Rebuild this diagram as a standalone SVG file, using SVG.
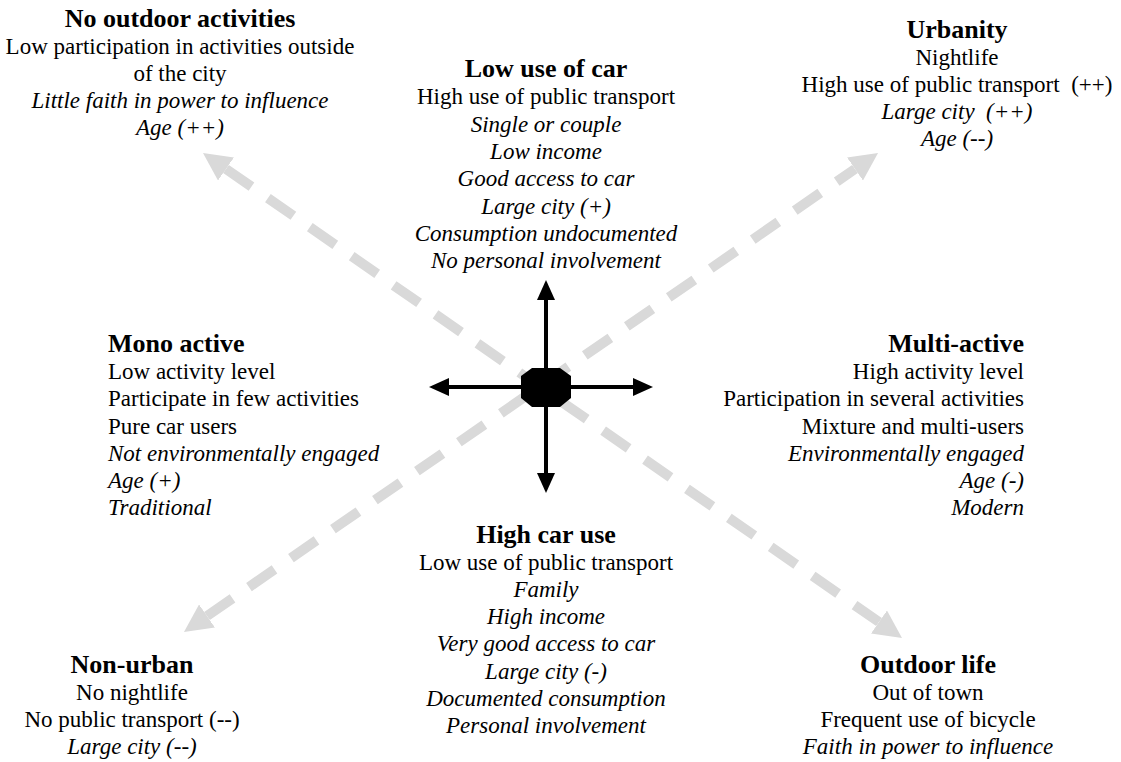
<svg xmlns="http://www.w3.org/2000/svg" width="1121" height="762" viewBox="0 0 1121 762">
<style>
text{font-family:"Liberation Serif","Times New Roman",serif;font-size:23px;fill:#000}
.t{font-weight:bold;font-size:26px}
.i{font-style:italic}
.c{text-anchor:middle}
.r{text-anchor:end}
.gray{stroke:#d9d9d9;stroke-width:10;stroke-dasharray:31 20;fill:none}
.blk{stroke:#000;stroke-width:4;fill:none}
</style>
<defs>
<marker id="gh" viewBox="0 0 28 28" markerUnits="userSpaceOnUse" markerWidth="28" markerHeight="28" refX="0" refY="14" orient="auto-start-reverse"><path d="M0,0 L28,14 L0,28 z" fill="#d9d9d9"/></marker>
<marker id="bh" viewBox="0 0 20 18" markerUnits="userSpaceOnUse" markerWidth="20" markerHeight="18" refX="0" refY="9" orient="auto-start-reverse"><path d="M0,0 L20,9 L0,18 z" fill="#000"/></marker>
</defs>
<rect width="1121" height="762" fill="#fff"/>
<g id="connectors">
<line class="gray" x1="226" y1="169" x2="879" y2="622" marker-start="url(#gh)" marker-end="url(#gh)"/>
<line class="gray" x1="207" y1="616" x2="855" y2="169" marker-start="url(#gh)" marker-end="url(#gh)"/>
<line class="blk" x1="546" y1="300" x2="546" y2="473" marker-start="url(#bh)" marker-end="url(#bh)"/>
<line class="blk" x1="449" y1="387" x2="633" y2="387" marker-start="url(#bh)" marker-end="url(#bh)"/>
</g>
<g id="center">
<polygon points="532,368 560,368 571,376 571,398 560,407 532,407 521,398 521,376" fill="#000"/>
</g>
<g id="no-outdoor">
<text class="t c" x="180" y="27">No outdoor activities</text>
<text class="c" x="180" y="54">Low participation in activities outside</text>
<text class="c" x="180" y="81">of the city</text>
<text class="i c" x="180" y="108">Little faith in power to influence</text>
<text class="i c" x="180" y="135">Age (++)</text>
</g>
<g id="low-car">
<text class="t c" x="546" y="77">Low use of car</text>
<text class="c" x="546" y="104.3">High use of public transport</text>
<text class="i c" x="546" y="131.6">Single or couple</text>
<text class="i c" x="546" y="158.9">Low income</text>
<text class="i c" x="546" y="186.2">Good access to car</text>
<text class="i c" x="546" y="213.5">Large city (+)</text>
<text class="i c" x="546" y="240.8">Consumption undocumented</text>
<text class="i c" x="546" y="268.1">No personal involvement</text>
</g>
<g id="urbanity">
<text class="t c" x="957" y="38">Urbanity</text>
<text class="c" x="957" y="65">Nightlife</text>
<text class="c" x="957" y="92" xml:space="preserve">High use of public transport  (++)</text>
<text class="i c" x="957" y="119" xml:space="preserve">Large city  (++)</text>
<text class="i c" x="957" y="146">Age (--)</text>
</g>
<g id="mono-active">
<text class="t" x="108" y="352">Mono active</text>
<text x="108" y="379.2">Low activity level</text>
<text x="108" y="406.4">Participate in few activities</text>
<text x="108" y="433.6">Pure car users</text>
<text class="i" x="108" y="460.8">Not environmentally engaged</text>
<text class="i" x="108" y="488">Age (+)</text>
<text class="i" x="108" y="515.2">Traditional</text>
</g>
<g id="multi-active">
<text class="t r" x="1024" y="352">Multi-active</text>
<text class="r" x="1024" y="379.2">High activity level</text>
<text class="r" x="1024" y="406.4">Participation in several activities</text>
<text class="r" x="1024" y="433.6">Mixture and multi-users</text>
<text class="i r" x="1024" y="460.8">Environmentally engaged</text>
<text class="i r" x="1024" y="488">Age (-)</text>
<text class="i r" x="1024" y="515.2">Modern</text>
</g>
<g id="high-car">
<text class="t c" x="546" y="543">High car use</text>
<text class="c" x="546" y="570.1">Low use of public transport</text>
<text class="i c" x="546" y="597.2">Family</text>
<text class="i c" x="546" y="624.3">High income</text>
<text class="i c" x="546" y="651.4">Very good access to car</text>
<text class="i c" x="546" y="678.5">Large city (-)</text>
<text class="i c" x="546" y="705.6">Documented consumption</text>
<text class="i c" x="546" y="732.7">Personal involvement</text>
</g>
<g id="non-urban">
<text class="t c" x="132" y="673">Non-urban</text>
<text class="c" x="132" y="700">No nightlife</text>
<text class="c" x="132" y="727">No public transport (--)</text>
<text class="i c" x="132" y="754">Large city (--)</text>
</g>
<g id="outdoor-life">
<text class="t c" x="928" y="673">Outdoor life</text>
<text class="c" x="928" y="700">Out of town</text>
<text class="c" x="928" y="727">Frequent use of bicycle</text>
<text class="i c" x="928" y="754">Faith in power to influence</text>
</g>
</svg>
